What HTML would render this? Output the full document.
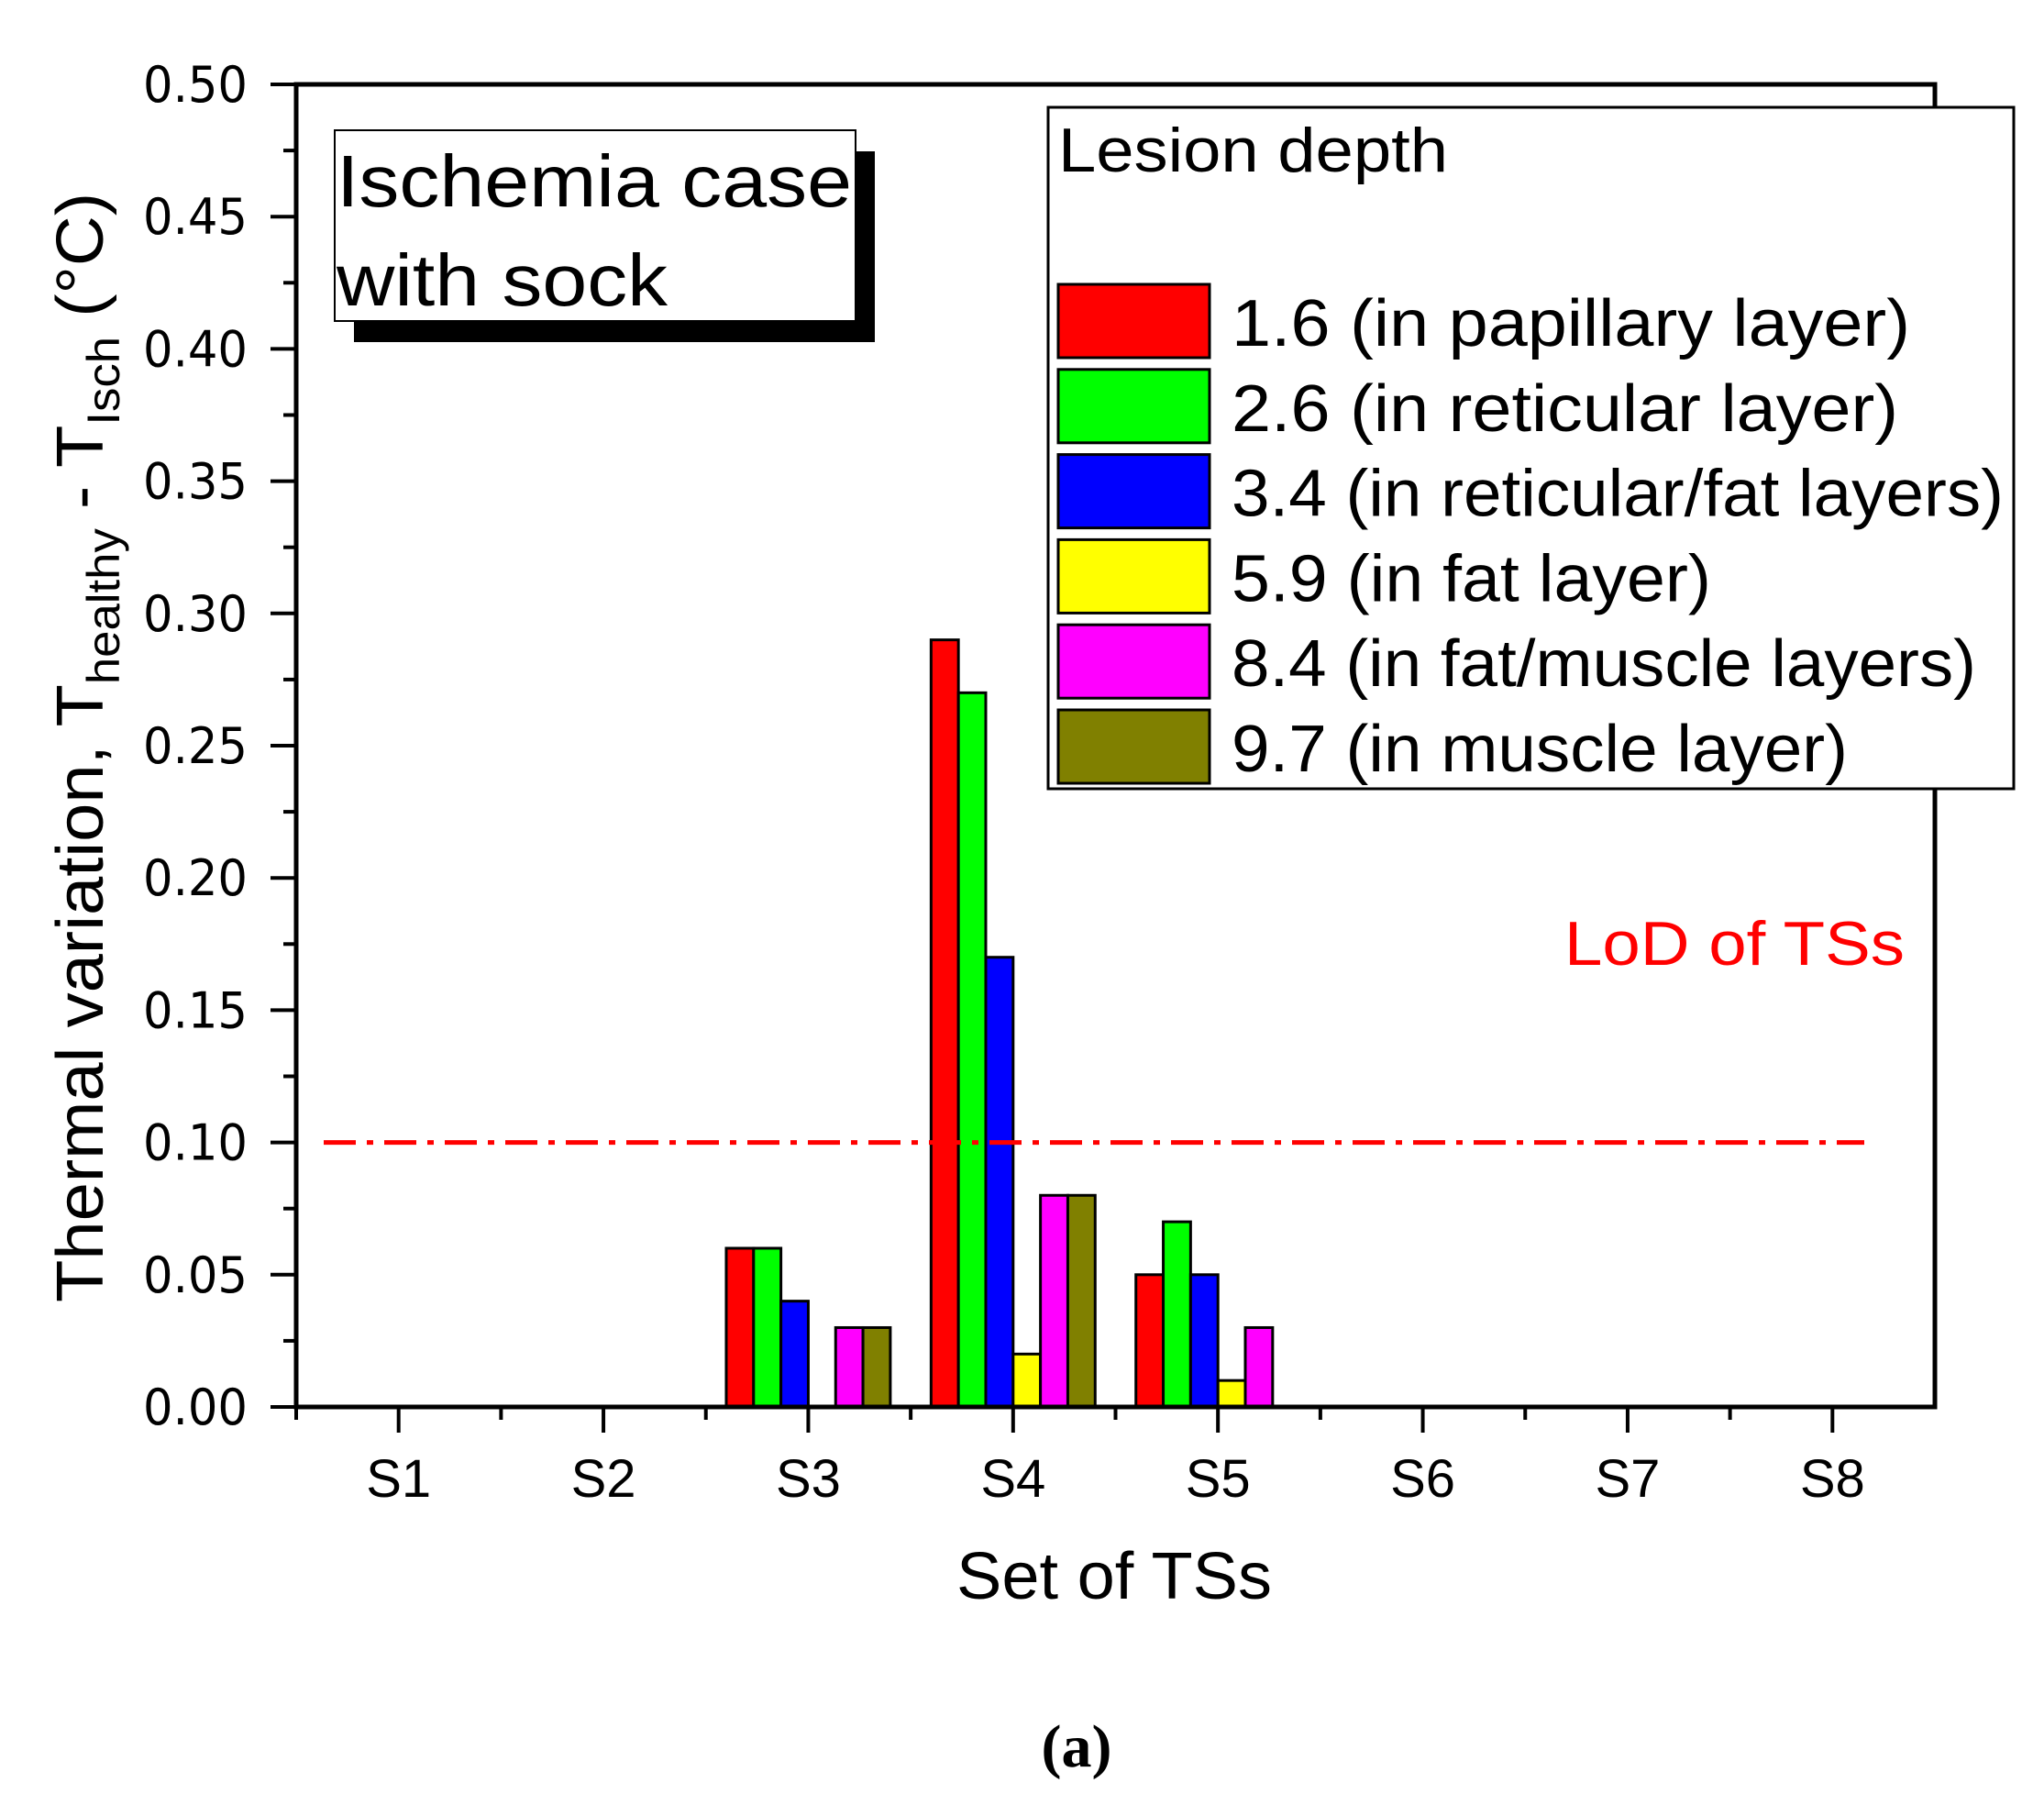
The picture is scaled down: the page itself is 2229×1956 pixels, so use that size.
<!DOCTYPE html>
<html><head><meta charset="utf-8"><style>
html,body{margin:0;padding:0;background:#fff}
svg{display:block}
text{font-family:"Liberation Sans",Arial,sans-serif}
</style></head><body>
<svg id="chart" width="2229" height="1956" viewBox="0 0 2229 1956" xmlns="http://www.w3.org/2000/svg">
<rect x="0" y="0" width="2229" height="1956" fill="#fff"/>
<g id="bars"></g>
<g id="axes"></g>
<text x="1706" y="1052" font-size="68" fill="#ff0000" textLength="371" lengthAdjust="spacingAndGlyphs">LoD of TSs</text>
<g>
<rect x="386" y="165" width="568" height="208" fill="#000"/>
<rect x="365" y="142" width="568" height="208" fill="#fff" stroke="#000" stroke-width="2"/>
<text x="367" y="225" font-size="80" textLength="562" lengthAdjust="spacingAndGlyphs">Ischemia case</text>
<text x="367" y="333" font-size="80" textLength="361" lengthAdjust="spacingAndGlyphs">with sock</text>
</g>
<g id="legend">
<rect x="1143" y="117" width="1053" height="743" fill="#fff" stroke="#000" stroke-width="3"/>
<text x="1154" y="187" font-size="68" textLength="425" lengthAdjust="spacingAndGlyphs">Lesion depth</text>
</g>
<text x="1174" y="1926" font-size="66" style="font-family:'Liberation Serif',serif;font-weight:bold" text-anchor="middle">(a)</text>
<text x="1215" y="1743" font-size="72" text-anchor="middle" textLength="344" lengthAdjust="spacingAndGlyphs">Set of TSs</text>
<text transform="translate(112,1420) rotate(-90)" font-size="72" textLength="1210" lengthAdjust="spacingAndGlyphs">Thermal variation, T<tspan font-size="50" dy="18">healthy</tspan><tspan dy="-18"> - T</tspan><tspan font-size="50" dy="18">Isch</tspan><tspan dy="-18">  (°C)</tspan></text>
</svg>
<script>
const categories = ["S1","S2","S3","S4","S5","S6","S7","S8"];
const seriesNames = ["1.6 (in papillary layer)","2.6 (in reticular layer)","3.4 (in reticular/fat layers)","5.9 (in fat layer)","8.4 (in fat/muscle layers)","9.7 (in muscle layer)"];
const seriesColors = ["#ff0000","#00ff00","#0000ff","#ffff00","#ff00ff","#808000"];
const s16 = [0,0,0.06,0.29,0.05,0,0,0];
const s26 = [0,0,0.06,0.27,0.07,0,0,0];
const s34 = [0,0,0.04,0.17,0.05,0,0,0];
const s59 = [0,0,0,0.02,0.01,0,0,0];
const s84 = [0,0,0.03,0.08,0.03,0,0,0];
const s97 = [0,0,0.03,0.08,0,0,0,0];
const yTicks = [0,0.05,0.10,0.15,0.20,0.25,0.30,0.35,0.40,0.45,0.50];
const yTickLabels = ["0.00","0.05","0.10","0.15","0.20","0.25","0.30","0.35","0.40","0.45","0.50"];
const lodValue = 0.10;

const NS = "http://www.w3.org/2000/svg";
const L = 323, R = 2110, T = 92, B = 1534;
const yMin = 0, yMax = 0.5;
const catW = (R - L) / categories.length;
const barW = catW * 0.1335;
function y(v){ return B - (v - yMin) / (yMax - yMin) * (B - T); }
function xc(i){ return L + (i + 0.5) * catW; }
function mk(tag, attrs, parent){
  const e = document.createElementNS(NS, tag);
  for (const k in attrs) e.setAttribute(k, attrs[k]);
  parent.appendChild(e);
  return e;
}
const series = [s16, s26, s34, s59, s84, s97];
const barsG = document.getElementById("bars");
series.forEach((vals, si) => {
  vals.forEach((v, ci) => {
    if (v <= 0) return;
    const x0 = xc(ci) + (si - 3) * barW;
    const r = mk("rect", {x: x0, y: y(v), width: barW, height: y(0) - y(v), fill: seriesColors[si], stroke: "#000", "stroke-width": 3}, barsG);
    
    
  });
});
const ax = document.getElementById("axes");
const lod = mk("line", {x1: 353, x2: 2033, y1: y(lodValue), y2: y(lodValue), stroke: "#ff0000", "stroke-width": 5, "stroke-dasharray": "35 12 7 12"}, ax);


const frame = mk("rect", {x: L, y: T, width: R - L, height: B - T, fill: "none", stroke: "#000", "stroke-width": 5}, ax);


yTicks.forEach((v, i) => {
  const t = mk("line", {x1: L - 28, x2: L, y1: y(v), y2: y(v), stroke: "#000", "stroke-width": 4}, ax);
  
  
  if (i < yTicks.length - 1) {
    const m = mk("line", {x1: L - 14, x2: L, y1: y(v + 0.025), y2: y(v + 0.025), stroke: "#000", "stroke-width": 4}, ax);
    
    
  }
  const lb = mk("text", {x: 270, y: y(v) + 19, "font-size": 54, "text-anchor": "end", textLength: 114, lengthAdjust: "spacingAndGlyphs", style: "font-family:'DejaVu Sans',sans-serif"}, ax);
  lb.textContent = yTickLabels[i];
  
  
});
categories.forEach((c, i) => {
  const t = mk("line", {x1: xc(i), x2: xc(i), y1: B, y2: B + 28, stroke: "#000", "stroke-width": 4}, ax);
  
  
  const m = mk("line", {x1: L + i * catW, x2: L + i * catW, y1: B, y2: B + 14, stroke: "#000", "stroke-width": 4}, ax);
  
  
  const lb = mk("text", {x: xc(i), y: 1632, "font-size": 58, "text-anchor": "middle"}, ax);
  lb.textContent = c;
  
  
});
const lg = document.getElementById("legend");
const legendWidths = [740, 727, 842, 523, 812, 672];
seriesNames.forEach((n, i) => {
  const top = 310 + i * 92.8;
  const sw = mk("rect", {x: 1154, y: top, width: 165, height: 80, fill: seriesColors[i], stroke: "#000", "stroke-width": 3}, lg);
  
  
  const tx = mk("text", {x: 1343, y: top + 67, "font-size": 72, textLength: legendWidths[i], lengthAdjust: "spacingAndGlyphs"}, lg);
  tx.textContent = n;
  
  
});
</script>
</body></html>
